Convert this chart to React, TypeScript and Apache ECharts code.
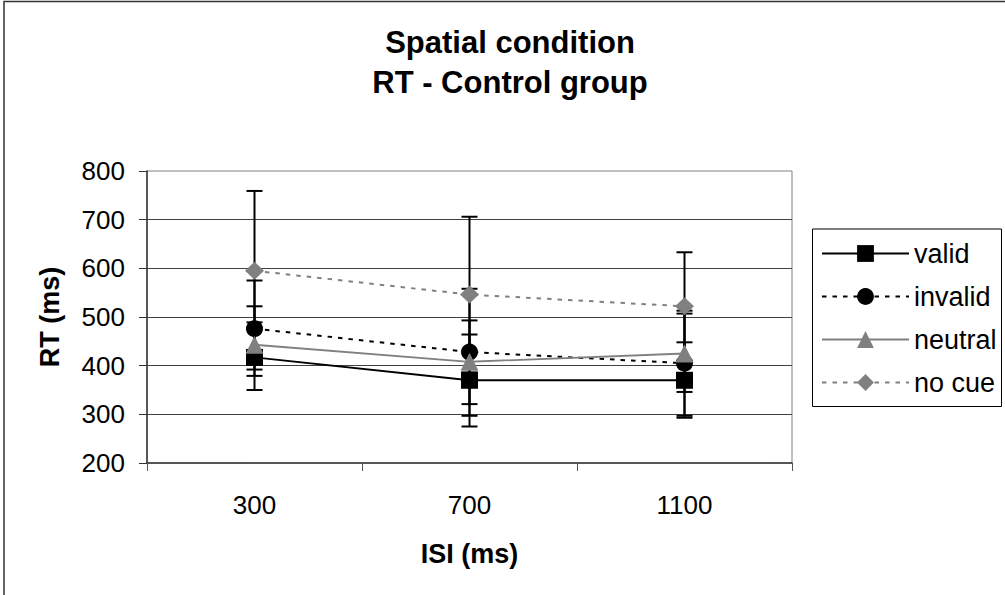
import React, { useEffect, useRef } from "react";
import * as echarts from "echarts";

const categories = ["300", "700", "1100"];
const seriesNames = ["valid", "invalid", "neutral", "no cue"];

const validMean = [417, 370, 370];
const invalidMean = [476, 428, 405];
const neutralMean = [443, 408, 425];
const noCueMean = [595, 546, 522];

const validLow = [350, 275, 293];
const validHigh = [489, 464, 448];
const invalidLow = [379, 297, 297];
const invalidHigh = [575, 558, 513];
const neutralLow = [392, 321, 346];
const neutralHigh = [522, 493, 507];
const noCueLow = [431, 386, 411];
const noCueHigh = [759, 706, 633];

const yTicks = [200, 300, 400, 500, 600, 700, 800];

const FONT = "'Liberation Sans', Arial, sans-serif";
const GRAY = "#808080";

export default function App() {
  const ref = useRef<HTMLDivElement>(null);

  useEffect(() => {
    if (!ref.current) return;
    const chart = echarts.init(ref.current, null, { renderer: "svg" });

    const lows = [validLow, invalidLow, neutralLow, noCueLow];
    const highs = [validHigh, invalidHigh, neutralHigh, noCueHigh];
    const errData: number[][] = [];
    lows.forEach((lo, s) => {
      lo.forEach((v, i) => errData.push([i, v, highs[s][i]]));
    });

    const option: any = {
      animation: false,
      backgroundColor: "#fff",
      textStyle: { fontFamily: FONT },
      title: {
        text: "Spatial condition\nRT - Control group",
        left: 510,
        top: 22,
        padding: 0,
        textAlign: "center",
        textStyle: {
          fontFamily: FONT,
          fontSize: 31,
          fontWeight: "bold",
          color: "#000",
          lineHeight: 40,
        },
      },
      grid: {
        left: 147,
        top: 171,
        width: 645,
        height: 292,
        show: true,
        borderColor: GRAY,
        borderWidth: 1,
        backgroundColor: "#fff",
        containLabel: false,
        outerBoundsMode: "none",
      },
      legend: {
        orient: "vertical",
        left: 821,
        top: 240,
        padding: 0,
        itemWidth: 87,
        itemHeight: 21,
        itemGap: 16,
        data: seriesNames,
        textStyle: { fontFamily: FONT, fontSize: 27, color: "#000" },
        selectedMode: false,
      },
      xAxis: {
        type: "category",
        data: categories,
        boundaryGap: true,
        name: "ISI (ms)",
        nameLocation: "middle",
        nameGap: 77,
        nameTextStyle: { fontFamily: FONT, fontSize: 27, fontWeight: "bold", color: "#000" },
        axisLine: { show: true, lineStyle: { color: "#333", width: 1.5 } },
        axisTick: { show: true, alignWithLabel: false, length: 8, lineStyle: { color: "#555", width: 1 } },
        axisLabel: { fontFamily: FONT, fontSize: 26, color: "#000", margin: 29 },
        splitLine: { show: false },
      },
      yAxis: {
        type: "value",
        min: 200,
        max: 800,
        interval: 100,
        name: "RT (ms)",
        nameLocation: "middle",
        nameGap: 84,
        nameTextStyle: { fontFamily: FONT, fontSize: 27, fontWeight: "bold", color: "#000" },
        axisLine: { show: true, lineStyle: { color: "#333", width: 1.5 } },
        axisTick: { show: true, inside: false, length: 8, lineStyle: { color: "#333", width: 1 } },
        axisLabel: {
          fontFamily: FONT,
          fontSize: 26,
          color: "#000",
          margin: 22,
          customValues: yTicks,
        },
        splitLine: { show: true, showMinLine: false, showMaxLine: false, lineStyle: { color: "#404040", width: 1 } },
      },
      graphic: [
        {
          type: "rect",
          shape: { x: 4, y: 1.5, width: 1010, height: 600 },
          style: { fill: "none", stroke: "#333", lineWidth: 1.5 },
          silent: true,
        },
        {
          type: "rect",
          shape: { x: 812.5, y: 229, width: 189, height: 177.5 },
          style: { fill: "none", stroke: "#000", lineWidth: 1 },
          silent: true,
        },
      ],
      series: [
        {
          type: "custom",
          name: "errors",
          silent: true,
          data: errData,
          encode: { x: 0, y: [1, 2] },
          renderItem: (params: any, api: any) => {
            const xi = api.value(0);
            const lo = api.coord([xi, api.value(1)]);
            const hi = api.coord([xi, api.value(2)]);
            const hw = 8;
            const st = { stroke: "#000", lineWidth: 2 };
            return {
              type: "group",
              children: [
                { type: "line", shape: { x1: lo[0], y1: lo[1], x2: hi[0], y2: hi[1] }, style: st },
                { type: "line", shape: { x1: lo[0] - hw, y1: lo[1], x2: lo[0] + hw, y2: lo[1] }, style: st },
                { type: "line", shape: { x1: hi[0] - hw, y1: hi[1], x2: hi[0] + hw, y2: hi[1] }, style: st },
              ],
            };
          },
        },
        {
          type: "line",
          name: "valid",
          data: validMean,
          symbol: "rect",
          symbolSize: 17,
          lineStyle: { color: "#000", width: 1.8, type: "solid" },
          itemStyle: { color: "#000" },
        },
        {
          type: "line",
          name: "invalid",
          data: invalidMean,
          symbol: "circle",
          symbolSize: 17,
          lineStyle: { color: "#000", width: 2, type: [4.5, 6] },
          itemStyle: { color: "#000" },
        },
        {
          type: "line",
          name: "neutral",
          data: neutralMean,
          symbol: "triangle",
          symbolSize: 18,
          lineStyle: { color: GRAY, width: 1.8, type: "solid" },
          itemStyle: { color: GRAY },
        },
        {
          type: "line",
          name: "no cue",
          data: noCueMean,
          symbol: "diamond",
          symbolSize: [19, 18],
          lineStyle: { color: GRAY, width: 2, type: [4.5, 6] },
          itemStyle: { color: GRAY },
        },
      ],
    };

    chart.setOption(option);
    return () => chart.dispose();
  }, []);

  return (
    <div
      ref={ref}
      style={{ position: "fixed", left: 0, top: 0, width: 1005, height: 595, background: "#fff" }}
    />
  );
}
